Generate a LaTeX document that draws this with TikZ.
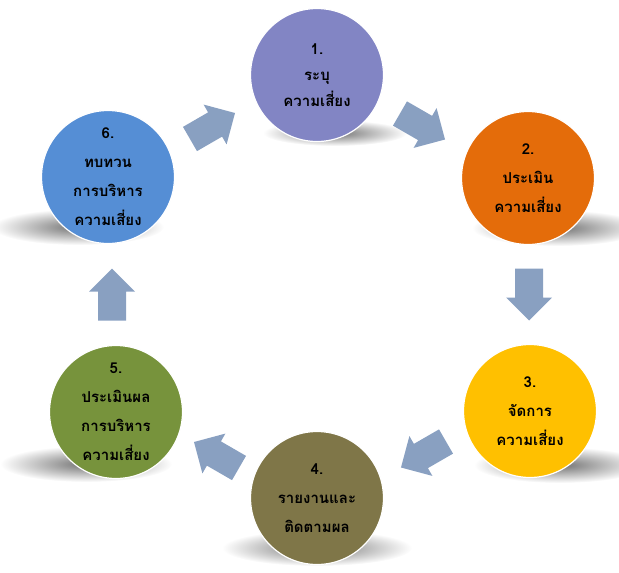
\documentclass[tikz,border=0pt]{standalone}
\usepackage{fontspec}
\newfontfamily\thaifont[Script=Thai]{Loma}
\usetikzlibrary{calc}
\definecolor{cone}{RGB}{130,133,196}
\definecolor{ctwo}{RGB}{228,108,10}
\definecolor{cthree}{RGB}{255,192,0}
\definecolor{cfour}{RGB}{127,118,72}
\definecolor{cfive}{RGB}{119,147,60}
\definecolor{csix}{RGB}{85,142,213}
\definecolor{arrowcol}{RGB}{137,160,193}
\begin{document}
\begin{tikzpicture}[x=1pt,y=-1pt,
  stage/.style={circle, minimum size=133pt, inner sep=0pt, draw=white, line width=1.2pt,
    align=center, text=black, font=\thaifont\bfseries\fontsize{15}{29}\selectfont},
  shadowfx/.style={inner color=black!55, outer color=white},
  barrow/.pic={\fill[arrowcol] (-26,-14) -- (3,-14) -- (3,-23) -- (26,0) -- (3,23) -- (3,14) -- (-26,14) -- cycle;}
]
\useasboundingbox (0,0) rectangle (619,573);
\coordinate (p1) at (317,75);
\coordinate (p2) at (528,178);
\coordinate (p3) at (530,411);
\coordinate (p4) at (317,498);
\coordinate (p5) at (116,412);
\coordinate (p6) at (108,177);
% shadows
\shade[shadowfx] ($(p1)+(18,58)$) ellipse (72 and 13);
\shade[shadowfx] ($(p2)+(30,50)$) ellipse (86 and 18);
\shade[shadowfx] ($(p3)+(30,54)$) ellipse (86 and 18);
\shade[shadowfx] ($(p4)+(0,50)$) ellipse (95 and 18);
\shade[shadowfx] ($(p5)+(-30,52)$) ellipse (86 and 18);
\shade[shadowfx] ($(p6)+(-30,50)$) ellipse (86 and 18);
% arrows
\pic[rotate=30] at ($(p6)!0.5!(p1)$) {barrow};
\pic[rotate=-30] at ($(p1)!0.5!(p2)$) {barrow};
\pic[rotate=-90] at ($(p2)!0.5!(p3)$) {barrow};
\pic[rotate=-150] at ($(p3)!0.5!(p4)$) {barrow};
\pic[rotate=150] at ($(p4)!0.5!(p5)$) {barrow};
\pic[rotate=90] at ($(p5)!0.5!(p6)$) {barrow};
% circles
\node[stage, fill=cone, font=\thaifont\bfseries\fontsize{15}{26}\selectfont] (c1) at (p1) {1.\\ระบุ\\ความเสี่ยง};
\node[stage, fill=ctwo] (c2) at (p2) {2.\\ประเมิน\\ความเสี่ยง};
\node[stage, fill=cthree] (c3) at (p3) {3.\\จัดการ\\ความเสี่ยง};
\node[stage, fill=cfour] (c4) at (p4) {4.\\รายงานและ\\ติดตามผล};
\node[stage, fill=cfive] (c5) at (p5) {5.\\ประเมินผล\\การบริหาร\\ความเสี่ยง};
\node[stage, fill=csix] (c6) at (p6) {6.\\ทบทวน\\การบริหาร\\ความเสี่ยง};
\end{tikzpicture}
\end{document}
